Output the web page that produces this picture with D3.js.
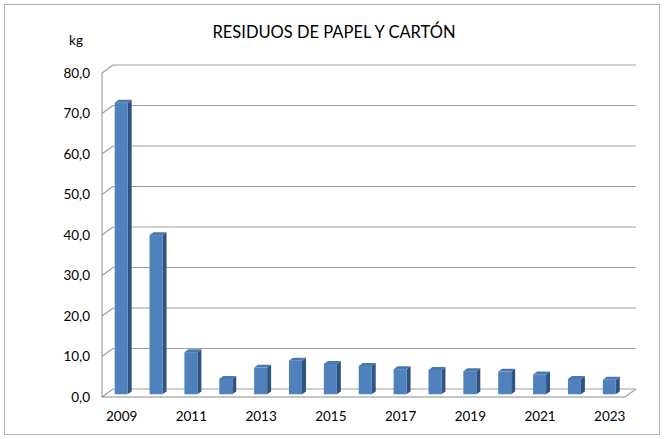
<!DOCTYPE html>
<html><head><meta charset="utf-8">
<script src="https://cdn.jsdelivr.net/npm/d3@7"></script>
<style>body{margin:0;background:#fff}svg{display:block}text{font-family:Lato,"Open Sans",sans-serif}</style>
</head><body><svg id="c" width="664" height="439"></svg>
<script>
const years = [2009,2010,2011,2012,2013,2014,2015,2016,2017,2018,2019,2020,2021,2022,2023];
const values = [72.0,39.3,10.4,3.8,6.6,8.3,7.5,7.0,6.2,6.0,5.7,5.6,4.9,3.8,3.6];
const yTicks = [0,10,20,30,40,50,60,70,80];
const labeledYears = [2009,2011,2013,2015,2017,2019,2021,2023];
const title = "RESIDUOS DE PAPEL Y CARTÓN";
const unit = "kg";

const svg = d3.select("#c");
const DX = 11, DY = -8;
const x = d3.scaleBand().domain(years).range([102, 625]);
const y = d3.scaleLinear().domain([0, 80]).range([397, 73]);
const fmt = d3.formatLocale({decimal: ",", thousands: ".", grouping: [3], currency: ["", "€"]}).format(".1f");

// outer border
svg.append("rect").attr("x", 4.5).attr("y", 4.5).attr("width", 655).attr("height", 430)
  .attr("fill", "#fff").attr("stroke", "#b3b3b3").attr("stroke-width", 1);

// back gridlines + diagonals
const grid = svg.append("g").attr("stroke", "#a0a0a0").attr("stroke-width", 1.2).attr("fill", "none");
yTicks.forEach(v => {
  const yy = y(v);
  grid.append("line").attr("x1", x.range()[0] + DX).attr("x2", x.range()[1] + DX).attr("y1", yy + DY).attr("y2", yy + DY);
  grid.append("line").attr("x1", x.range()[0]).attr("x2", x.range()[0] + DX).attr("y1", yy).attr("y2", yy + DY);
});
// front vertical axis
grid.append("line").attr("x1", x.range()[0]).attr("x2", x.range()[0]).attr("y1", y(80)).attr("y2", y(0));
// floor front and right edge
grid.append("line").attr("x1", x.range()[0]).attr("x2", x.range()[1]).attr("y1", y(0)).attr("y2", y(0)).attr("stroke", "#8c8c8c");
grid.append("line").attr("x1", x.range()[1]).attr("x2", x.range()[1] + DX).attr("y1", y(0)).attr("y2", y(0) + DY);

// bars
const t0 = 0.34, t1 = 0.7, bw = 13;
const bars = svg.append("g");
years.forEach((yr, i) => {
  const v = values[i];
  const cx = x(yr) + x.bandwidth() / 2;
  const fx0 = cx - bw / 2 + DX * t0 - 2, fx1 = fx0 + bw;
  const fy0 = y(v) + DY * t0, fyb = y(0) + DY * t0;
  const ddx = DX * (t1 - t0), ddy = DY * (t1 - t0);
  // side face
  bars.append("path").attr("d", `M${fx1},${fy0} L${fx1 + ddx},${fy0 + ddy} L${fx1 + ddx},${fyb + ddy} L${fx1},${fyb} Z`).attr("fill", "#2f5380");
  // top face
  bars.append("path").attr("d", `M${fx0},${fy0} L${fx0 + ddx},${fy0 + ddy} L${fx1 + ddx},${fy0 + ddy} L${fx1},${fy0} Z`).attr("fill", "#4a78b0");
  // front face
  bars.append("rect").attr("x", fx0).attr("y", fy0).attr("width", bw).attr("height", fyb - fy0).attr("fill", "#4f81bd");
});

// y axis labels
const yAxis = d3.axisLeft(y).tickValues(yTicks).tickFormat(fmt).tickSize(0).tickPadding(12);
const ga = svg.append("g").attr("transform", `translate(${x.range()[0]},0)`).call(yAxis);
ga.select(".domain").remove();
ga.selectAll("text").attr("font-size", 13.5).attr("fill", "#000").attr("font-family", "Lato,'Open Sans',sans-serif");

// x axis labels
const xAxis = d3.axisBottom(x).tickValues(labeledYears).tickSize(0).tickPadding(14);
const gx = svg.append("g").attr("transform", `translate(${DX * 0.2},${y(0)})`).call(xAxis);
gx.select(".domain").remove();
gx.selectAll("text").attr("font-size", 13.5).attr("fill", "#000").attr("font-family", "Lato,'Open Sans',sans-serif");

svg.append("text").attr("x", 334).attr("y", 37.5).attr("text-anchor", "middle").attr("font-size", 16.5).attr("fill", "#000").text(title);
svg.append("text").attr("x", 76).attr("y", 45).attr("text-anchor", "middle").attr("font-size", 13.5).attr("fill", "#000").text(unit);
</script></body></html>
